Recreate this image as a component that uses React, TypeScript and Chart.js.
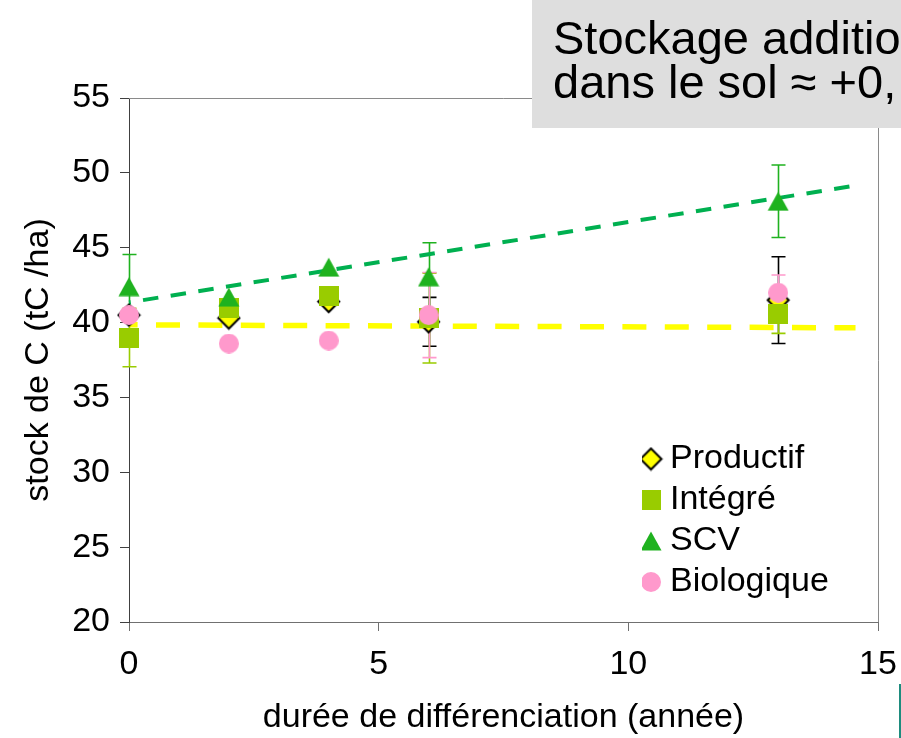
import React, { useEffect, useRef } from 'react';
import { Chart, registerables } from 'chart.js';

Chart.register(...registerables);

// ---- data ----
const years = [0, 2, 4, 6, 13];
const productif = [40.5, 40.3, 41.4, 40.05, 41.5];
const productifErr = [0, 0, 0, 1.63, 2.9];
const integre = [39.0, 41.0, 41.8, 40.3, 40.6];
const integreErr = [1.95, 0, 0, 3.0, 1.32];
const scv = [42.4, 41.7, 43.7, 43.06, 48.1];
const scvErr = [2.15, 0, 0, 2.27, 2.42];
const biologique = [40.5, 38.6, 38.8, 40.5, 42.0];
const biologiqueErr = [0, 0, 0, 2.84, 1.18];

const trendScvX = [0, 14.45];
const trendScvY = [41.35, 49.1];
const trendBaseX = [0, 14.55];
const trendBaseY = [39.85, 39.65];

const seriesNames = ['Productif', 'Intégré', 'SCV', 'Biologique'];
const xTitle = 'durée de différenciation (année)';
const yTitle = 'stock de C (tC /ha)';
const boxLines = ['Stockage additionnel', 'dans le sol ≈ +0,'];

const FONT = "'Liberation Sans', Arial, Helvetica, sans-serif";

function makeMarker(shape: string, fill: string, stroke?: string): HTMLCanvasElement {
  const c = document.createElement('canvas');
  const s = shape === 'diamond' ? 25 : shape === 'triangle' ? 22 : 20;
  c.width = s;
  c.height = shape === 'triangle' ? 20 : s;
  const g = c.getContext('2d')!;
  g.fillStyle = fill;
  g.beginPath();
  if (shape === 'diamond') {
    const m = s / 2;
    const r = 10.5;
    g.moveTo(m, m - r);
    g.lineTo(m + r, m);
    g.lineTo(m, m + r);
    g.lineTo(m - r, m);
    g.closePath();
    g.fill();
    if (stroke) {
      g.strokeStyle = stroke;
      g.lineWidth = 2;
      g.stroke();
    }
  } else if (shape === 'square') {
    g.rect(0, 0, 20, 20);
    g.fill();
  } else if (shape === 'triangle') {
    g.moveTo(11, 0.5);
    g.lineTo(21.5, 19.5);
    g.lineTo(0.5, 19.5);
    g.closePath();
    g.fill();
  } else {
    g.arc(10, 10, 10, 0, Math.PI * 2);
    g.fill();
  }
  return c;
}

const toPts = (xs: number[], ys: number[]) => xs.map((x, i) => ({ x, y: ys[i] }));

export default function App() {
  const ref = useRef<HTMLCanvasElement | null>(null);

  useEffect(() => {
    if (!ref.current) return;
    Chart.defaults.font.family = FONT;
    Chart.defaults.color = '#000';

    const errs = [productifErr, integreErr, scvErr, biologiqueErr];
    const errColors = ['#000000', '#99CC00', '#1FB21F', '#FF99CC'];
    const seriesVals = [productif, integre, scv, biologique];

    const decor = {
      id: 'decor',
      beforeDatasetsDraw(chart: any) {
        const { ctx, chartArea: a, scales } = chart;
        ctx.save();
        // plot frame (top/right)
        ctx.strokeStyle = '#8a8a8a';
        ctx.lineWidth = 1;
        ctx.beginPath();
        ctx.moveTo(a.left, a.top + 0.5);
        ctx.lineTo(a.right + 0.5, a.top + 0.5);
        ctx.lineTo(a.right + 0.5, a.bottom);
        ctx.stroke();
        // error bars
        ctx.lineWidth = 1.6;
        for (let d = 0; d < 4; d++) {
          ctx.strokeStyle = errColors[d];
          years.forEach((yr, i) => {
            const e = errs[d][i];
            if (!e) return;
            const v = seriesVals[d][i];
            const px = Math.round(scales.x.getPixelForValue(yr)) + 0.5;
            const t = scales.y.getPixelForValue(v + e);
            const b = scales.y.getPixelForValue(v - e);
            ctx.beginPath();
            ctx.moveTo(px, t);
            ctx.lineTo(px, b);
            ctx.moveTo(px - 7, t);
            ctx.lineTo(px + 7, t);
            ctx.moveTo(px - 7, b);
            ctx.lineTo(px + 7, b);
            ctx.stroke();
          });
        }
        ctx.restore();
      },
      afterLayout(chart: any) {
        const lg = chart.legend;
        if (!lg) return;
        const L = 642;
        const T = 435;
        const dx = L - lg.left;
        const dy = T - lg.top;
        lg.left = L;
        lg.right = L + lg.width;
        lg.top = T;
        lg.bottom = T + lg.height;
        (lg.legendHitBoxes || []).forEach((h: any) => {
          h.left += dx;
          h.top += dy;
        });
      },
      afterDraw(chart: any) {
        const { ctx } = chart;
        ctx.save();
        ctx.fillStyle = '#DEDEDE';
        ctx.fillRect(532, 0, 369, 128);
        ctx.fillStyle = '#000';
        ctx.font = `47px ${FONT}`;
        ctx.textAlign = 'left';
        ctx.textBaseline = 'alphabetic';
        ctx.fillText(boxLines[0], 553, 54);
        ctx.fillText(boxLines[1], 553, 98);
        // small teal artifact at bottom-right edge
        ctx.fillStyle = '#1E8C7E';
        ctx.fillRect(899, 684, 2, 54);
        ctx.restore();
      },
    };

    const chart = new Chart(ref.current, {
      type: 'scatter',
      data: {
        datasets: [
          {
            label: seriesNames[0],
            data: toPts(years, productif),
            pointStyle: makeMarker('diamond', '#FFFF00', '#000'),
            pointRadius: 10,
            pointHoverRadius: 10,
            order: 4,
            clip: false,
          },
          {
            label: seriesNames[1],
            data: toPts(years, integre),
            pointStyle: makeMarker('square', '#99CC00'),
            pointRadius: 10,
            pointHoverRadius: 10,
            order: 3,
            clip: false,
          },
          {
            label: seriesNames[2],
            data: toPts(years, scv),
            pointStyle: makeMarker('triangle', '#1FB21F'),
            pointRadius: 10,
            pointHoverRadius: 10,
            order: 2,
            clip: false,
          },
          {
            label: seriesNames[3],
            data: toPts(years, biologique),
            pointStyle: makeMarker('circle', '#FF99CC'),
            pointRadius: 10,
            pointHoverRadius: 10,
            order: 1,
            clip: false,
          },
          {
            label: 'trend SCV',
            data: toPts(trendScvX, trendScvY),
            showLine: true,
            borderColor: '#00B050',
            borderWidth: 4,
            borderDash: [15.5, 12.5],
            borderDashOffset: 13.8,
            pointRadius: 0,
            order: 10,
            clip: false,
          } as any,
          {
            label: 'trend base',
            data: toPts(trendBaseX, trendBaseY),
            showLine: true,
            borderColor: '#FFFF00',
            borderWidth: 5.5,
            borderDash: [24, 18.4],
            borderDashOffset: 15.4,
            pointRadius: 0,
            order: 11,
            clip: false,
          } as any,
        ],
      },
      options: {
        responsive: false,
        animation: false,
        devicePixelRatio: 1,
        layout: { padding: { left: 0, right: 23, top: 98, bottom: 0 } },
        plugins: {
          tooltip: { enabled: false },
          legend: {
            position: 'chartArea' as any,
            align: 'start',
            labels: {
              usePointStyle: true,
              pointStyleWidth: 4,
              boxHeight: 20,
              padding: 7,
              color: '#000',
              font: { size: 34, family: FONT },
              filter: (item: any) => item.datasetIndex < 4,
              sort: (a: any, b: any) => a.datasetIndex - b.datasetIndex,
            },
          },
        },
        scales: {
          x: {
            type: 'linear',
            min: 0,
            max: 15,
            afterFit: (s: any) => {
              s.height = 116;
              s.paddingRight = 0;
              s.paddingLeft = 0;
            },
            ticks: { stepSize: 5, font: { size: 34 }, color: '#000', padding: 13 },
            grid: { drawOnChartArea: false, tickLength: 9, tickColor: '#707070' },
            border: { color: '#707070', width: 1 },
            title: { display: true, text: xTitle, font: { size: 34 }, color: '#000', padding: { top: 0, bottom: 0 } },
          },
          y: {
            min: 20,
            max: 55,
            afterFit: (s: any) => {
              s.width = 129;
            },
            ticks: { stepSize: 5, font: { size: 34 }, color: '#000', padding: 10 },
            grid: { drawOnChartArea: false, tickLength: 9, tickColor: '#404040' },
            border: { color: '#404040', width: 1 },
            title: { display: true, text: yTitle, font: { size: 34 }, color: '#000', padding: { top: 18, bottom: 0 } },
          },
        },
      },
      plugins: [decor],
    });

    return () => chart.destroy();
  }, []);

  return (
    <div style={{ position: 'absolute', left: 0, top: 0, width: 901, height: 738, background: '#fff' }}>
      <canvas ref={ref} width={901} height={738} style={{ display: 'block' }} />
    </div>
  );
}
